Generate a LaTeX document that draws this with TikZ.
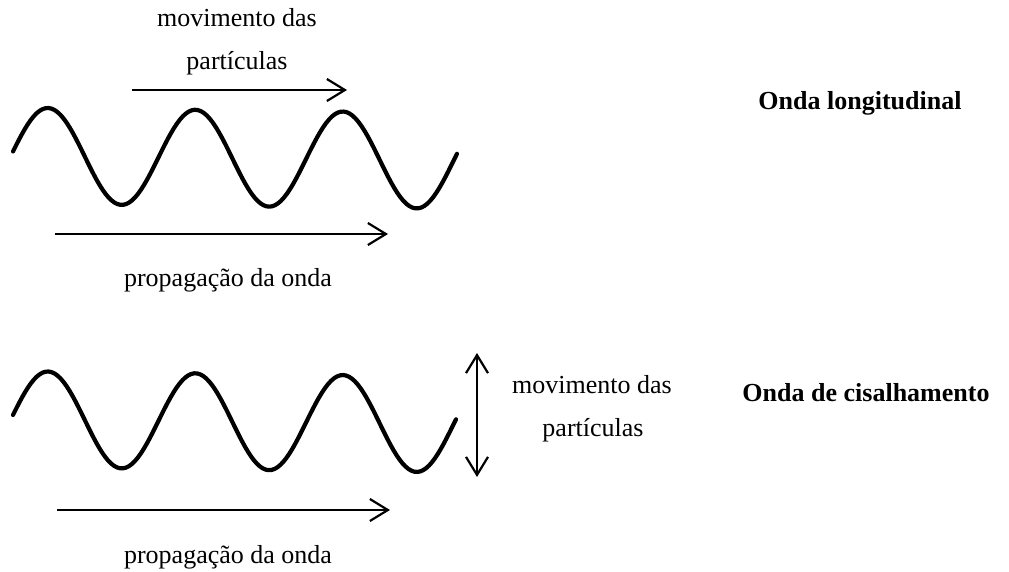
\documentclass[tikz,border=0pt]{standalone}
\usepackage{fontspec}
\setmainfont{Liberation Serif}
\usetikzlibrary{arrows.meta, positioning}

\begin{document}
\begin{tikzpicture}[x=1pt, y=-1pt,
    lbl/.style={font=\fontsize{26}{30}\selectfont, inner sep=0pt},
    title/.style={inner sep=0pt, font=\fontsize{26}{30}\selectfont\bfseries},
    wave/.style={line width=4.2pt, line cap=round, line join=round},
    move/.style={line width=2.2pt, -{Straight Barb[length=18pt,width=22pt]}},
    shake/.style={line width=2.2pt, {Straight Barb[length=18pt,width=22pt]}-{Straight Barb[length=18pt,width=22pt]}},
  ]
  \useasboundingbox (0,0) rectangle (1009,571);

  % longitudinal wave
  \draw[wave] plot[domain=13:457, samples=150]
    (\x, {156 + 0.012*(\x-48) - 48*sin(2.4407*(\x-11))});
  \node[lbl] (mov1) at (237,18) {movimento das};
  \node[lbl] (part1) at (237,63) {partículas};
  \coordinate (m1a) at (132,90);
  \coordinate (m1b) at (347,90);
  \draw[move] (m1a) -- (m1b);
  \coordinate (p1a) at (55,234);
  \coordinate (p1b) at (388,234);
  \draw[move] (p1a) -- (p1b);
  \node[lbl] (prop1) at (228,280) {propagação da onda};
  \node[title] (long) at (860,103) {Onda longitudinal};

  % shear wave
  \draw[wave] plot[domain=13:456, samples=150]
    (\x, {419.5 + 0.012*(\x-48) - 48*sin(2.4407*(\x-11))});
  \coordinate (s2a) at (477,353);
  \coordinate (s2b) at (477,477);
  \draw[shake] (s2a) -- (s2b);
  \node[lbl] (mov2) at (592,385) {movimento das};
  \node[lbl] (part2) at (593,430) {partículas};
  \coordinate (p2a) at (57,510);
  \coordinate (p2b) at (390,510);
  \draw[move] (p2a) -- (p2b);
  \node[lbl] (prop2) at (228,557) {propagação da onda};
  \node[title] (shear) at (866,393) {Onda de cisalhamento};
\end{tikzpicture}
\end{document}
